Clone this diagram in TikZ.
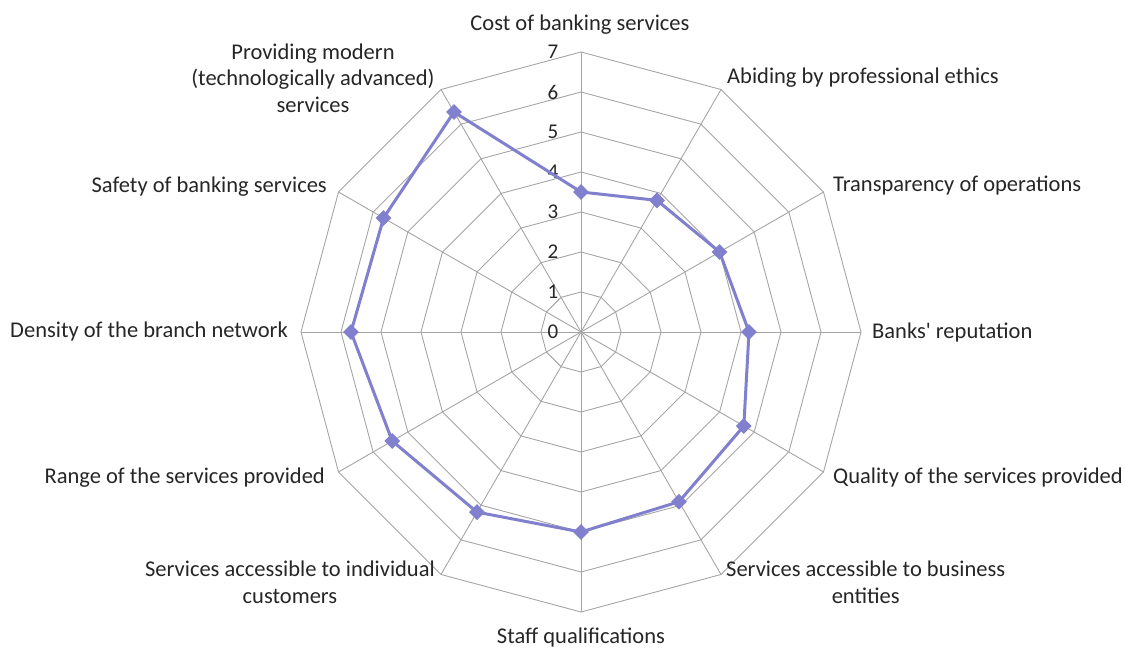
\documentclass[tikz,border=0pt]{standalone}
\usepackage{fontspec}
\setmainfont{Carlito}
\usetikzlibrary{shapes.geometric}
\definecolor{series}{RGB}{128,128,206}
\definecolor{gridc}{RGB}{165,165,165}
\definecolor{txt}{RGB}{38,38,38}
\tikzset{
  gridline/.style={draw=gridc, line width=0.9pt},
  lab/.style={font=\fontsize{22.5}{26.5}\selectfont, text=txt, inner sep=0pt, align=center},
  tick/.style={font=\fontsize{21}{24}\selectfont, text=txt, inner sep=0pt},
  serline/.style={draw=series, line width=3pt, line join=round},
  marker/.style={diamond, fill=series, draw=none, minimum width=16pt, minimum height=16pt, inner sep=0pt}
}
\begin{document}
\begin{tikzpicture}[x=1pt,y=1pt]
\useasboundingbox (0,0) rectangle (1125,649);
\begin{scope}[shift={(581,317)}]
  \coordinate (c) at (0,0);
  % rings
  \foreach \k in {1,...,7}{
    \draw[gridline] (0:\k*40) \foreach \a in {30,60,...,330}{ -- (\a:\k*40)} -- cycle;
  }
  % spokes
  \foreach \a [count=\i] in {90,60,30,0,-30,-60,-90,-120,-150,180,150,120}{
    \coordinate (s\i) at (\a:280);
    \draw[gridline] (c) -- (s\i);
  }
  % tick labels
  \foreach \k in {0,...,7}{
    \node[tick] (t\k) at (-28,\k*40) {\k};
  }
  % data
  \foreach \a/\v [count=\i] in {90/3.5,60/3.8,30/4.0,0/4.2,-30/4.7,-60/4.9,-90/5.0,-120/5.2,-150/5.45,180/5.75,150/5.7,120/6.35}{
    \coordinate (d\i) at (\a:\v*40);
  }
  \draw[serline] (d1) -- (d2) -- (d3) -- (d4) -- (d5) -- (d6) -- (d7) -- (d8) -- (d9) -- (d10) -- (d11) -- (d12) -- cycle;
  \foreach \i in {1,...,12}{
    \node[marker] (m\i) at (d\i) {};
  }
\end{scope}
% category labels (pixel coordinates: y = 649 - py)
\node[lab] (l1) at (580,{649-25}) {Cost of banking services};
\node[lab, anchor=west] (l2) at (727,{649-78}) {Abiding by professional ethics};
\node[lab, anchor=west] (l3) at (833,{649-186}) {Transparency of operations};
\node[lab, anchor=west] (l4) at (872,{649-333}) {Banks\textquotesingle\ reputation};
\node[lab, anchor=west] (l5) at (833,{649-478}) {Quality of the services provided};
\node[lab, anchor=north west] (l6) at (726,{649-561}) {Services accessible to business\\entities};
\node[lab] (l7) at (581,{649-637}) {Staff qualifications};
\node[lab, anchor=north east] (l8) at (435,{649-561}) {Services accessible to individual\\customers};
\node[lab, anchor=east] (l9) at (325,{649-478}) {Range of the services provided};
\node[lab, anchor=east] (l10) at (288,{649-332}) {Density of the branch network};
\node[lab, anchor=east] (l11) at (327,{649-187}) {Safety of banking services};
\node[lab] (l12) at (313,{649-78}) {Providing modern\\(technologically advanced)\\services};
\end{tikzpicture}
\end{document}
